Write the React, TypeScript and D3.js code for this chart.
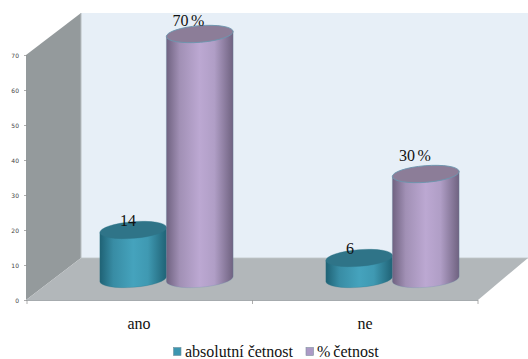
import React from "react";
import * as d3 from "d3";

const categories = ["ano", "ne"];
const seriesNames = ["absolutní četnost", "% četnost"];
const absoluteValues = [14, 6];
const percentValues = [70, 30];
const absoluteLabels = ["14", "6"];
const percentLabels = ["70 %", "30 %"];
const yTicks = [0, 10, 20, 30, 40, 50, 60, 70];

const W = 528;
const H = 359;
const FRONT_BOTTOM = 300.5;
const BASE_Y = 279;
const TILT = -4.5;
const RX = 33.5;
const RY = 8.3;

// Value-to-pixel mappings for the front axis and for cylinder heights.
const yAxis = d3.scaleLinear().domain([0, 70]).range([FRONT_BOTTOM, 55.5]);
const heightScale = d3.scaleLinear().domain([0, 70]).range([0, 245]);
const groupScale = d3.scaleBand().domain(categories).range([100, 552]);
const seriesScale = d3.scaleBand().domain(seriesNames).range([0, 133]);

const palettes = [
  { id: "teal", edge: "#1f6275", mid: "#45a3bd", cap: "#2f7488", stroke: "#2f7488", swatch: "#3c96b0" },
  { id: "violet", edge: "#6f6280", mid: "#bca8d2", cap: "#8c7d98", stroke: "#6c96ae", swatch: "#ac9ac6" },
];

function Cylinder({ cx, value, pal }: { cx: number; value: number; pal: (typeof palettes)[number] }) {
  const h = heightScale(value);
  const rad = (TILT * Math.PI) / 180;
  const dx = RX * Math.cos(rad);
  const dy = RX * Math.sin(rad);
  const top = BASE_Y - h;
  const side =
    `M${cx - dx} ${top - dy} L${cx - dx} ${BASE_Y - dy} ` +
    `A${RX} ${RY} ${TILT} 0 0 ${cx + dx} ${BASE_Y + dy} L${cx + dx} ${top + dy} Z`;
  return (
    <g>
      <path d={side} fill={`url(#${pal.id})`} stroke={pal.stroke} strokeOpacity={0.35} strokeWidth={0.8} />
      <ellipse
        cx={cx}
        cy={top}
        rx={RX}
        ry={RY}
        transform={`rotate(${TILT} ${cx} ${top})`}
        fill={pal.cap}
        stroke={pal.stroke}
        strokeWidth={pal.id === "teal" ? 0.4 : 0.9}
      />
    </g>
  );
}

export default function App() {
  const serif = "'Liberation Serif', 'Times New Roman', serif";
  const sans = "'DejaVu Sans', sans-serif";
  const centreOf = (cat: string, s: string) =>
    (groupScale(cat) ?? 0) + (seriesScale(s) ?? 0) + seriesScale.bandwidth() / 2;

  return (
    <svg
      width={W}
      height={H}
      viewBox={`0 0 ${W} ${H}`}
      style={{ position: "absolute", left: 0, top: 0, display: "block" }}
    >
      <defs>
        {palettes.map((p) => (
          <linearGradient key={p.id} id={p.id} x1="0" x2="1" y1="0" y2="0">
            <stop offset="0" stopColor={p.edge} />
            <stop offset="0.2" stopColor={d3.interpolateRgb(p.edge, p.mid)(0.65)} />
            <stop offset="0.5" stopColor={p.mid} />
            <stop offset="0.72" stopColor={d3.interpolateRgb(p.edge, p.mid)(0.85)} />
            <stop offset="1" stopColor={p.edge} />
          </linearGradient>
        ))}
      </defs>
      <rect x={0} y={0} width={W} height={H} fill="#ffffff" />

      {/* Chart box: back wall, side wall and floor */}
      <polygon points="81,13 528,13 528,258 81,258" fill="#e7eff7" />
      <polygon points="26,55 81,13 81,258 26,300" fill="#949a9c" />
      <line x1={81} y1={13} x2={81} y2={258} stroke="#b9bfc2" strokeWidth={1} />
      <polygon points="26,300 81,258 528,258 478,300" fill="#b2b7ba" />
      <line x1={26} y1={300.5} x2={478} y2={300.5} stroke="#a6abae" strokeWidth={1} />
      <line x1={81} y1={258} x2={528} y2={258} stroke="#bfc5c8" strokeWidth={0.8} />

      {/* Value axis */}
      {yTicks.map((t) => (
        <g key={t}>
          <line x1={24} x2={26.5} y1={yAxis(t)} y2={yAxis(t)} stroke="#888" strokeWidth={0.7} />
          <text x={19} y={yAxis(t) + 2.2} textAnchor="end" fontFamily={sans} fontSize={6} fill="#444">
            {t}
          </text>
        </g>
      ))}

      {/* Category axis */}
      {[27, 252.5, 478].map((x) => (
        <line key={x} x1={x} x2={x} y1={300} y2={304} stroke="#999" strokeWidth={0.8} />
      ))}
      {categories.map((c, i) => (
        <text key={c} x={i === 0 ? 139 : 365} y={329} textAnchor="middle" fontFamily={serif} fontSize={16} fill="#111">
          {c}
        </text>
      ))}

      {/* Cylinders, left to right so that each overlaps its neighbour */}
      {categories.map((c, i) => (
        <g key={c}>
          <Cylinder cx={centreOf(c, seriesNames[0])} value={absoluteValues[i]} pal={palettes[0]} />
          <Cylinder cx={centreOf(c, seriesNames[1])} value={percentValues[i]} pal={palettes[1]} />
        </g>
      ))}

      {/* Value labels */}
      {categories.map((c, i) => (
        <g key={c} fontFamily={serif} fontSize={16} fill="#111" textAnchor="middle">
          <text x={i === 0 ? 128 : 350} y={BASE_Y - heightScale(absoluteValues[i]) - 4}>
            {absoluteLabels[i]}
          </text>
          <text x={i === 0 ? 188.5 : 415} y={BASE_Y - heightScale(percentValues[i]) - (i === 0 ? 8 : 13)} wordSpacing={-1.5}>
            {percentLabels[i]}
          </text>
        </g>
      ))}

      {/* Legend */}
      <g fontFamily={serif} fontSize={16} fill="#111">
        <rect x={173.5} y={347.5} width={7.5} height={8} fill={palettes[0].swatch} stroke="#6f8f9c" strokeWidth={0.6} />
        <text x={185} y={357}>{seriesNames[0]}</text>
        <rect x={306} y={347.5} width={7.5} height={8} fill={palettes[1].swatch} stroke="#7f8f9f" strokeWidth={0.6} />
        <text x={317} y={357} wordSpacing={-1}>{seriesNames[1]}</text>
      </g>
    </svg>
  );
}
